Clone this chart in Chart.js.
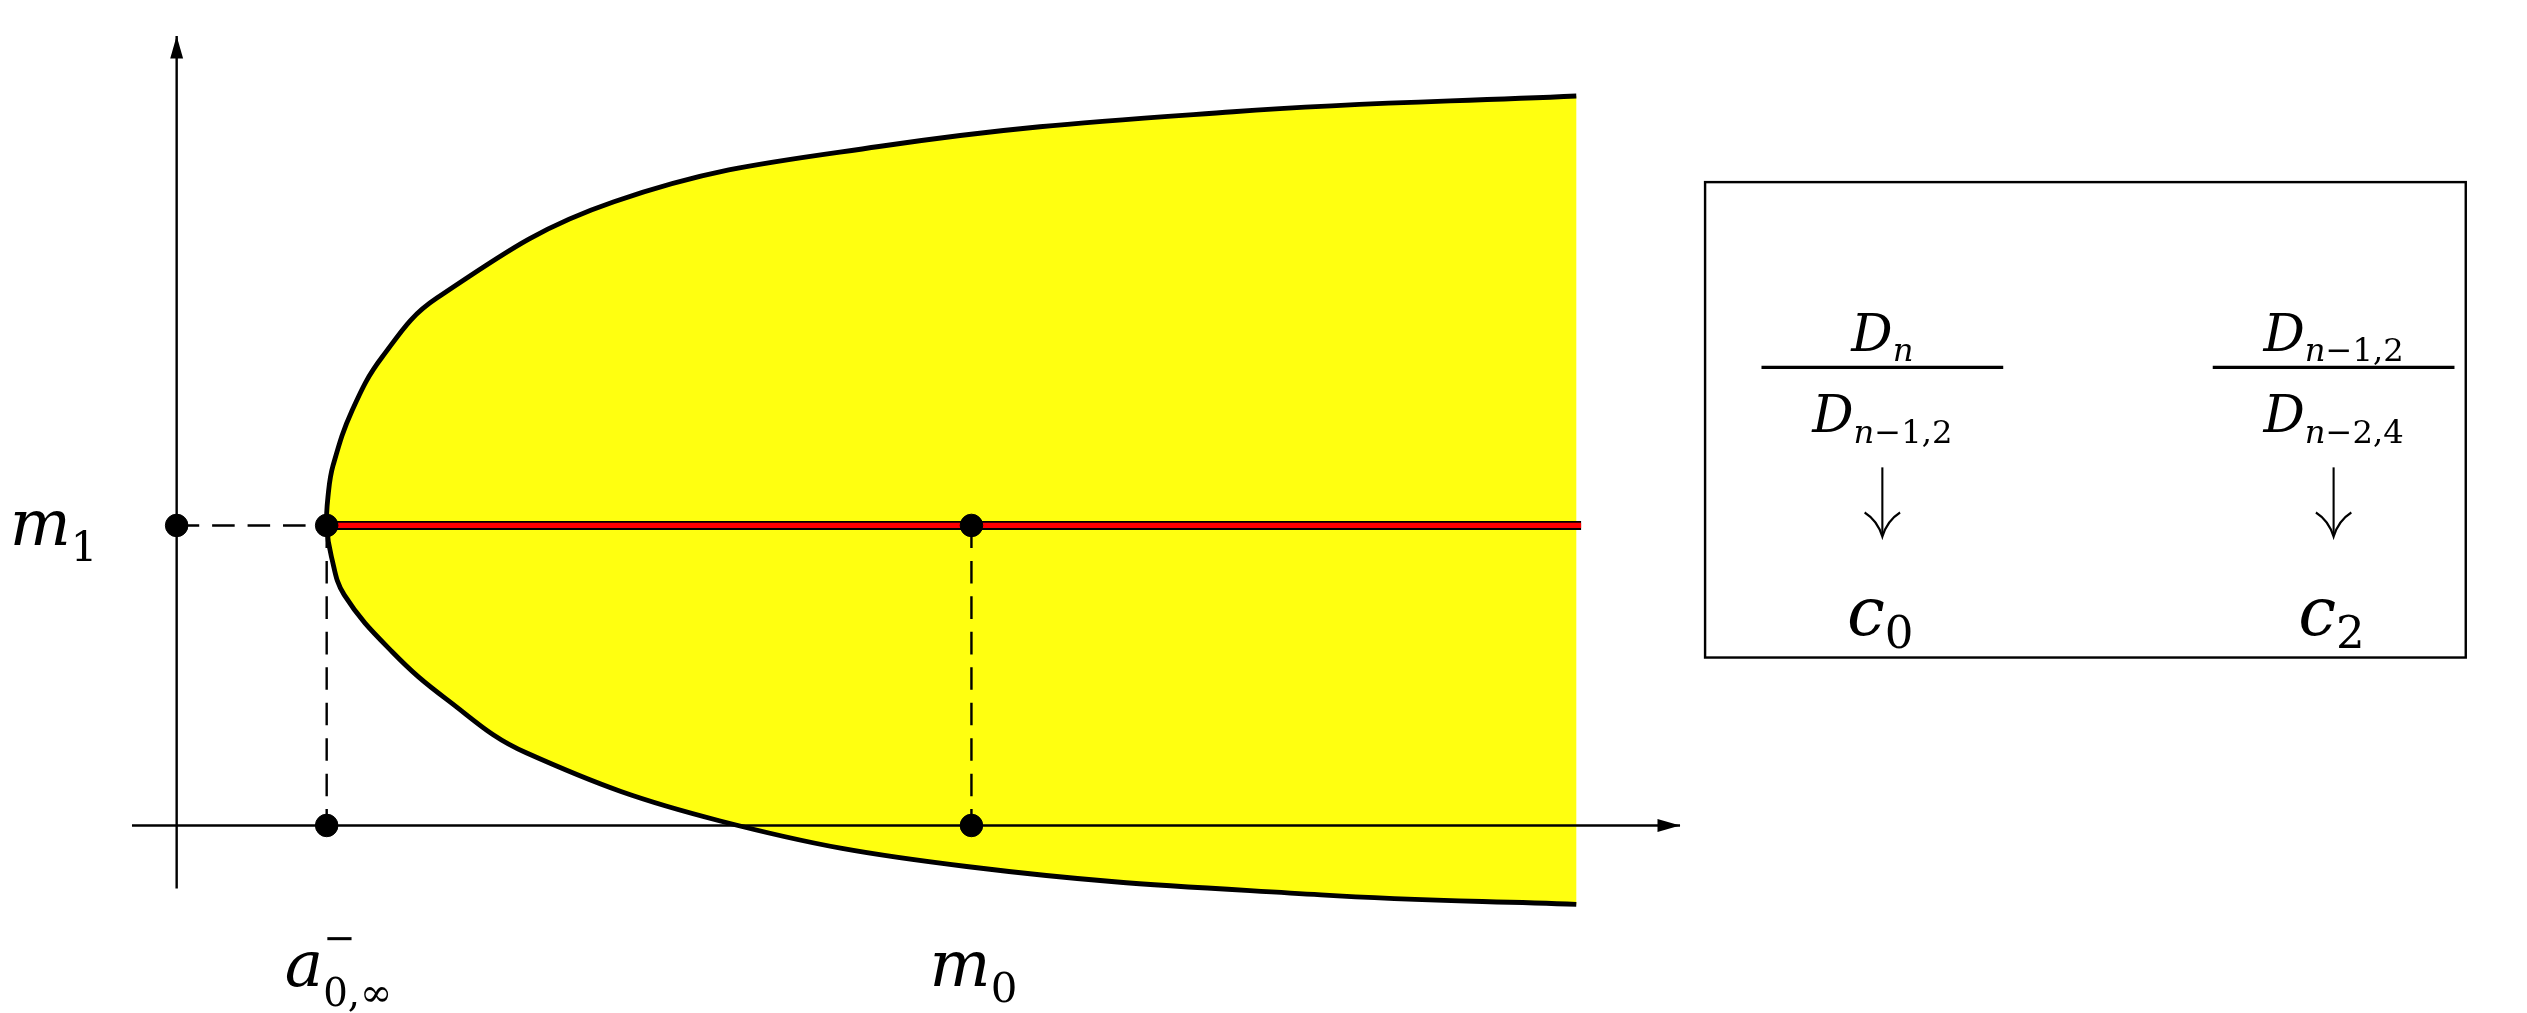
<!DOCTYPE html>
<html><head><meta charset="utf-8">
<script src="https://cdn.jsdelivr.net/npm/chart.js@4/dist/chart.umd.min.js"></script>
<style>html,body{margin:0;padding:0;background:#fff;overflow:hidden}#w{width:2527px;height:1013px}</style>
</head><body><div id="w"><canvas id="c"></canvas></div>
<script>
// boundary curve of the region (upper branch -> vertex -> lower branch)
const curveX = [8.77,6.62,4.40,2.74,1.63,1.29,1.10,0.98,0.95,0.94,0.97,1.05,1.35,1.69,2.19,3.40,4.95,7.17,8.77];
const curveY = [4.62,4.52,4.30,3.95,3.34,2.97,2.63,2.28,2.10,1.90,1.70,1.46,1.10,0.80,0.46,0.03,-0.26,-0.44,-0.50];
const m1 = 1.9, aNeg = 0.94, m0 = 4.98, xEnd = 8.8;
const pointsX = [0, aNeg, m0, aNeg, m0];
const pointsY = [m1, m1, m1, 0, 0];
const axisX = [-0.28, 9.42], axisY = [-0.4, 5.0];

const S = 2527 / 1568; // layout unit -> canvas pixel
const pts = (xs, ys) => xs.map((x, i) => ({x, y: ys[i]}));
const dash = [14 * S, 8 * S];
const lineDs = (data, color, w, extra) => Object.assign({type:'line', data, borderColor:color, borderWidth:w * S, pointRadius:0, fill:false, tension:0, order:1}, extra||{});

const serif = '"DejaVu Serif", "Liberation Serif", serif';
function txt(ctx, s, x, y, size, italic) {
  ctx.font = (italic ? 'italic ' : '') + size + 'px ' + serif;
  ctx.fillText(s, x, y);
  return ctx.measureText(s).width;
}
function measure(ctx, s, size, italic) { ctx.font = (italic ? 'italic ' : '') + size + 'px ' + serif; return ctx.measureText(s).width; }
const overlay = {
  id: 'overlay',
  afterDatasetsDraw(chart) {
    const ctx = chart.ctx, sx = chart.scales.x, sy = chart.scales.y;
    const px = v => sx.getPixelForValue(v) / S, py = v => sy.getPixelForValue(v) / S;
    ctx.save();
    ctx.scale(S, S);
    ctx.fillStyle = '#000'; ctx.strokeStyle = '#000';
    const ax = px(axisX[1]), ay = py(0);
    ctx.beginPath(); ctx.moveTo(ax, ay); ctx.lineTo(ax - 14, ay - 4); ctx.lineTo(ax - 14, ay + 4); ctx.closePath(); ctx.fill();
    const bx = px(0), by = py(axisY[1]);
    ctx.beginPath(); ctx.moveTo(bx, by); ctx.lineTo(bx - 4, by + 14); ctx.lineTo(bx + 4, by + 14); ctx.closePath(); ctx.fill();
    ctx.textBaseline = 'alphabetic';
    let w = txt(ctx, 'm', 6, py(m1) + 12, 40, true);
    txt(ctx, '1', 6 + w, py(m1) + 22, 26, false);
    let x0 = px(aNeg) - 26;
    w = txt(ctx, 'a', x0, 612, 40, true);
    txt(ctx, '−', x0 + w, 590, 24, false);
    txt(ctx, '0,∞', x0 + w, 624, 24, false);
    x0 = px(m0) - 26;
    w = txt(ctx, 'm', x0, 612, 40, true);
    txt(ctx, '0', x0 + w, 622, 26, false);
    ctx.lineWidth = 1.5;
    ctx.strokeRect(1058, 113, 472, 295);
    function sub(x, y, parts) { let a = 0; parts.forEach(p => { a += txt(ctx, p[0], x + a, y, 20, p[1]); }); return a; }
    function subW(parts) { return parts.reduce((s, p) => s + measure(ctx, p[0], 20, p[1]), 0); }
    function frac(cx, ns, ds) {
      const dW = measure(ctx, 'D', 32, true);
      let s = cx - (dW + subW(ns)) / 2; txt(ctx, 'D', s, 218, 32, true); sub(s + dW, 224, ns);
      s = cx - (dW + subW(ds)) / 2; txt(ctx, 'D', s, 268, 32, true); sub(s + dW, 275, ds);
      ctx.lineWidth = 2; ctx.beginPath(); ctx.moveTo(cx - 75, 228); ctx.lineTo(cx + 75, 228); ctx.stroke();
      ctx.lineWidth = 1.3;
      ctx.beginPath(); ctx.moveTo(cx, 290); ctx.lineTo(cx, 332); ctx.stroke();
      ctx.beginPath(); ctx.moveTo(cx - 11, 318); ctx.quadraticCurveTo(cx - 3, 323, cx, 333); ctx.quadraticCurveTo(cx + 3, 323, cx + 11, 318); ctx.stroke();
    }
    const n = ['n', true];
    frac(1168, [n], [n, ['−1,2', false]]);
    frac(1448, [n, ['−1,2', false]], [n, ['−2,4', false]]);
    w = txt(ctx, 'c', 1146, 394, 42, true); txt(ctx, '0', 1146 + w, 402, 28, false);
    w = txt(ctx, 'c', 1426, 394, 42, true); txt(ctx, '2', 1426 + w, 402, 28, false);
    ctx.restore();
  }
};

new Chart(document.getElementById('c'), {
  type: 'scatter',
  data: { datasets: [
    lineDs(pts(curveX, curveY), '#000', 3, {fill:'shape', backgroundColor:'#ffff10', tension:0.4, order:10}),
    lineDs(pts(axisX, [0, 0]), '#000', 1.5, {order:5}),
    lineDs(pts([0, 0], axisY), '#000', 1.5, {order:5}),
    lineDs(pts([0, aNeg], [m1, m1]), '#000', 1.5, {borderDash:dash, order:4}),
    lineDs(pts([aNeg, aNeg], [m1, 0]), '#000', 1.5, {borderDash:dash, order:4}),
    lineDs(pts([m0, m0], [m1, 0]), '#000', 1.5, {borderDash:dash, order:4}),
    lineDs(pts([aNeg, xEnd], [m1, m1]), '#000', 5.5, {order:3}),
    lineDs(pts([aNeg, xEnd], [m1, m1]), '#ff0000', 3.3, {order:2}),
    {type:'scatter', data: pts(pointsX, pointsY), pointRadius:7 * S, backgroundColor:'#000', borderColor:'#000', order:0}
  ]},
  options: {
    responsive:true, maintainAspectRatio:false, animation:false,
    layout:{padding:0},
    plugins:{legend:{display:false}, tooltip:{enabled:false}},
    scales:{
      x:{type:'linear', min:-1.03, max:14.65, display:false},
      y:{type:'linear', min:-1.11, max:5.15, display:false}
    }
  },
  plugins:[overlay]
});
</script></body></html>
